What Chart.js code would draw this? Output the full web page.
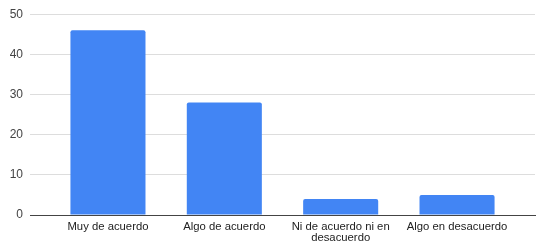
<!DOCTYPE html>
<html>
<head>
<meta charset="utf-8">
<script src="https://cdn.jsdelivr.net/npm/chart.js@4/dist/chart.umd.min.js"></script>
<style>
html,body{margin:0;padding:0;background:#fff;}
#wrap{width:546px;height:251px;position:relative;}
</style>
</head>
<body>
<div id="wrap"><canvas id="c"></canvas></div>
<script>
const categories = [["Muy de acuerdo"], ["Algo de acuerdo"], ["Ni de acuerdo ni en", "desacuerdo"], ["Algo en desacuerdo"]];
const values = [46, 28, 4, 5];
const yTicks = [0, 10, 20, 30, 40, 50];

const points = values.map((v, i) => ({x: i, y: v}));
const X_MIN = -0.67, X_MAX = 3.67;

new Chart(document.getElementById('c'), {
  type: 'bar',
  data: {
    datasets: [{
      data: points,
      backgroundColor: '#4285F4',
      borderRadius: 2,
      borderSkipped: 'bottom',
      barPercentage: 0.645,
      categoryPercentage: 1
    }]
  },
  options: {
    responsive: true,
    maintainAspectRatio: false,
    animation: false,
    layout: {padding: {top: 12, right: 11, left: 0, bottom: 0}},
    plugins: {legend: {display: false}, tooltip: {enabled: false}},
    scales: {
      x: {
        type: 'linear',
        offset: false,
        bounds: 'data',
        min: X_MIN,
        max: X_MAX,
        afterBuildTicks: (s) => { s.ticks = categories.map((_, i) => ({value: i})); s.min = X_MIN; s.max = X_MAX; },
        afterFit: (s) => { s.height = 36; },
        grid: {display: false, drawTicks: false, offset: false},
        border: {display: true, color: '#444444', width: 1},
        ticks: {
          autoSkip: false,
          maxRotation: 0,
          padding: 7,
          color: '#222222',
          font: {family: 'Arial, "Liberation Sans"', size: 11.3, lineHeight: 0.95},
          callback: (v) => categories[v]
        }
      },
      y: {
        min: 0,
        max: 50,
        afterBuildTicks: (s) => { s.ticks = yTicks.map(v => ({value: v})); },
        afterFit: (s) => { s.width = 30; },
        grid: {color: '#dddddd', drawTicks: false},
        border: {display: false},
        ticks: {
          padding: 7,
          color: '#444444',
          font: {family: 'Arial, "Liberation Sans"', size: 12}
        }
      }
    }
  }
});
</script>
</body>
</html>
